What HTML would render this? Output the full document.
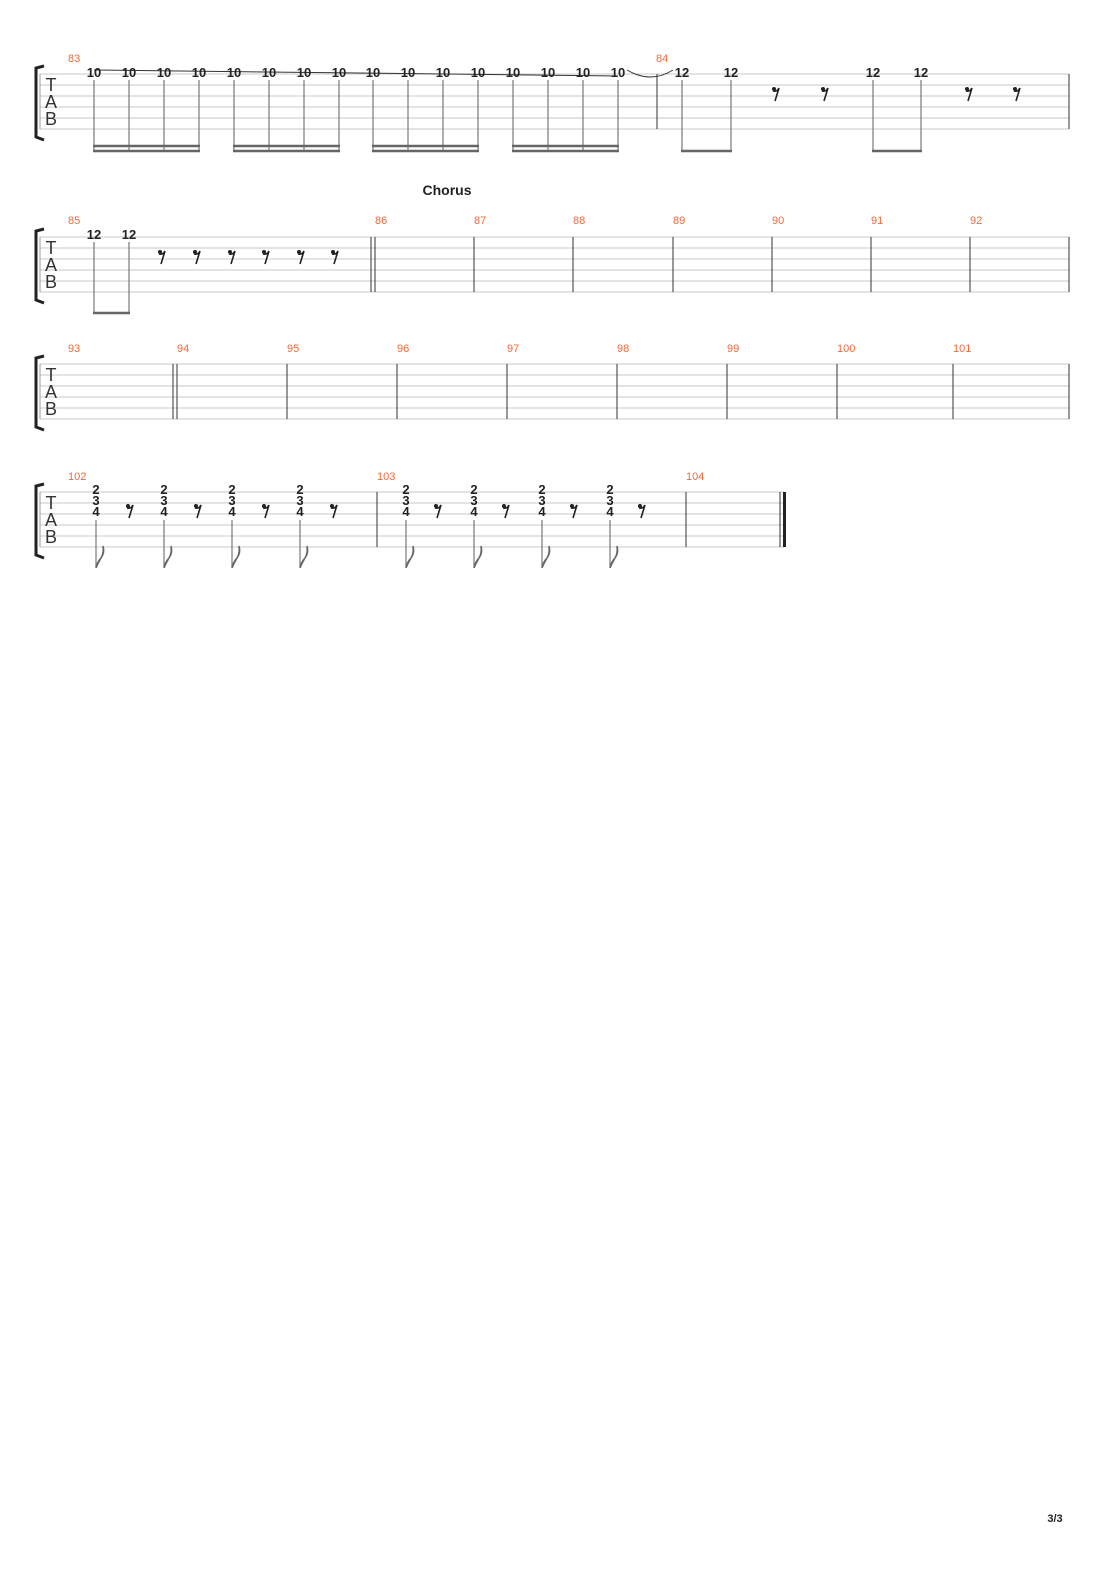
<!DOCTYPE html>
<html><head><meta charset="utf-8"><style>
body{margin:0;background:#fff}
svg{display:block}
.b{stroke:#333;stroke-width:1}
.st{stroke:#777;stroke-width:1.2}
.bm{stroke:#666;stroke-width:2.5}
.n{font:bold 13px "Liberation Sans",sans-serif;fill:#222;text-anchor:middle}
.m{font:11px "Liberation Sans",sans-serif;fill:#f2683a}
.tab{font:18px "Liberation Sans",sans-serif;fill:#333;text-anchor:middle}
</style></head><body>
<svg width="1110" height="1570" xmlns="http://www.w3.org/2000/svg">
<defs>
<g id="staff" stroke="#c8c8c8" stroke-width="1"><line x1="40" y1="0" x2="1069" y2="0"/><line x1="40" y1="11" x2="1069" y2="11"/><line x1="40" y1="22" x2="1069" y2="22"/><line x1="40" y1="33" x2="1069" y2="33"/><line x1="40" y1="44" x2="1069" y2="44"/><line x1="40" y1="55" x2="1069" y2="55"/></g>
<g id="staff4" stroke="#c8c8c8" stroke-width="1"><line x1="40" y1="0" x2="784" y2="0"/><line x1="40" y1="11" x2="784" y2="11"/><line x1="40" y1="22" x2="784" y2="22"/><line x1="40" y1="33" x2="784" y2="33"/><line x1="40" y1="44" x2="784" y2="44"/><line x1="40" y1="55" x2="784" y2="55"/></g>
<g id="clef"><path d="M44,-8 L36,-6 L36,63 L44,66" fill="none" stroke="#222" stroke-width="3"/><line x1="40" y1="0" x2="40" y2="55" stroke="#999"/><text class="tab" x="51" y="17">T</text><text class="tab" x="51" y="34">A</text><text class="tab" x="51" y="51">B</text></g>
<g id="rest"><circle cx="-2" cy="-4" r="2" fill="#222"/><path d="M-3,-2 Q1,-1 3,-5 L-1,8" stroke="#222" stroke-width="1.6" fill="none"/></g>
<g id="flag"><line x1="0" y1="0" x2="0" y2="48" stroke="#777" stroke-width="1.2"/><path d="M0,48 Q1,42 5,38 Q9,33 7,26 Q8,33 5,38 Q2,43 0,48" fill="none" stroke="#666" stroke-width="1.5"/></g>
</defs>

<!-- System 1 -->
<g transform="translate(0,74)"><use href="#staff"/><use href="#clef"/></g>
<text class="m" x="68" y="62">83</text><text class="m" x="656" y="62">84</text>
<line x1="94" y1="70" x2="618" y2="76" stroke="#333" stroke-width="1"/>
<g>
<text class="n" x="94" y="77">10</text><text class="n" x="129" y="77">10</text><text class="n" x="164" y="77">10</text><text class="n" x="199" y="77">10</text>
<text class="n" x="234" y="77">10</text><text class="n" x="269" y="77">10</text><text class="n" x="304" y="77">10</text><text class="n" x="339" y="77">10</text>
<text class="n" x="373" y="77">10</text><text class="n" x="408" y="77">10</text><text class="n" x="443" y="77">10</text><text class="n" x="478" y="77">10</text>
<text class="n" x="513" y="77">10</text><text class="n" x="548" y="77">10</text><text class="n" x="583" y="77">10</text><text class="n" x="618" y="77">10</text>
<text class="n" x="682" y="77">12</text><text class="n" x="731" y="77">12</text><text class="n" x="873" y="77">12</text><text class="n" x="921" y="77">12</text>
</g>
<g class="st">
<line x1="94" y1="80" x2="94" y2="152"/><line x1="129" y1="80" x2="129" y2="152"/><line x1="164" y1="80" x2="164" y2="152"/><line x1="199" y1="80" x2="199" y2="152"/>
<line x1="234" y1="80" x2="234" y2="152"/><line x1="269" y1="80" x2="269" y2="152"/><line x1="304" y1="80" x2="304" y2="152"/><line x1="339" y1="80" x2="339" y2="152"/>
<line x1="373" y1="80" x2="373" y2="152"/><line x1="408" y1="80" x2="408" y2="152"/><line x1="443" y1="80" x2="443" y2="152"/><line x1="478" y1="80" x2="478" y2="152"/>
<line x1="513" y1="80" x2="513" y2="152"/><line x1="548" y1="80" x2="548" y2="152"/><line x1="583" y1="80" x2="583" y2="152"/><line x1="618" y1="80" x2="618" y2="152"/>
<line x1="682" y1="80" x2="682" y2="152"/><line x1="731" y1="80" x2="731" y2="152"/><line x1="873" y1="80" x2="873" y2="152"/><line x1="921" y1="80" x2="921" y2="152"/>
</g>
<g class="bm">
<line x1="93" y1="146" x2="200" y2="146"/><line x1="93" y1="151" x2="200" y2="151"/>
<line x1="233" y1="146" x2="340" y2="146"/><line x1="233" y1="151" x2="340" y2="151"/>
<line x1="372" y1="146" x2="479" y2="146"/><line x1="372" y1="151" x2="479" y2="151"/>
<line x1="512" y1="146" x2="619" y2="146"/><line x1="512" y1="151" x2="619" y2="151"/>
<line x1="681" y1="151" x2="732" y2="151"/><line x1="872" y1="151" x2="922" y2="151"/>
</g>
<path d="M627,70 Q651,84 673,70" fill="none" stroke="#333"/>
<line class="b" x1="657" y1="74" x2="657" y2="129"/><line class="b" x1="1069" y1="74" x2="1069" y2="129"/>
<use href="#rest" x="776" y="93"/><use href="#rest" x="825" y="93"/><use href="#rest" x="969" y="93"/><use href="#rest" x="1017" y="93"/>

<!-- System 2 -->
<text x="447" y="195" style="font:bold 14px 'Liberation Sans',sans-serif;fill:#222" text-anchor="middle">Chorus</text>
<g transform="translate(0,237)"><use href="#staff"/><use href="#clef"/></g>
<text class="m" x="68" y="224">85</text><text class="m" x="375" y="224">86</text><text class="m" x="474" y="224">87</text><text class="m" x="573" y="224">88</text><text class="m" x="673" y="224">89</text><text class="m" x="772" y="224">90</text><text class="m" x="871" y="224">91</text><text class="m" x="970" y="224">92</text>
<text class="n" x="94" y="239">12</text><text class="n" x="129" y="239">12</text>
<line class="st" x1="94" y1="242" x2="94" y2="314"/><line class="st" x1="129" y1="242" x2="129" y2="314"/>
<line class="bm" x1="93" y1="313" x2="130" y2="313"/>
<use href="#rest" x="162" y="256"/><use href="#rest" x="197" y="256"/><use href="#rest" x="232" y="256"/><use href="#rest" x="266" y="256"/><use href="#rest" x="301" y="256"/><use href="#rest" x="335" y="256"/>
<g class="b"><line x1="371" y1="237" x2="371" y2="292"/><line x1="375" y1="237" x2="375" y2="292"/><line x1="474" y1="237" x2="474" y2="292"/><line x1="573" y1="237" x2="573" y2="292"/><line x1="673" y1="237" x2="673" y2="292"/><line x1="772" y1="237" x2="772" y2="292"/><line x1="871" y1="237" x2="871" y2="292"/><line x1="970" y1="237" x2="970" y2="292"/><line x1="1069" y1="237" x2="1069" y2="292"/></g>

<!-- System 3 -->
<g transform="translate(0,364)"><use href="#staff"/><use href="#clef"/></g>
<text class="m" x="68" y="352">93</text><text class="m" x="177" y="352">94</text><text class="m" x="287" y="352">95</text><text class="m" x="397" y="352">96</text><text class="m" x="507" y="352">97</text><text class="m" x="617" y="352">98</text><text class="m" x="727" y="352">99</text><text class="m" x="837" y="352">100</text><text class="m" x="953" y="352">101</text>
<g class="b"><line x1="173" y1="364" x2="173" y2="419"/><line x1="177" y1="364" x2="177" y2="419"/><line x1="287" y1="364" x2="287" y2="419"/><line x1="397" y1="364" x2="397" y2="419"/><line x1="507" y1="364" x2="507" y2="419"/><line x1="617" y1="364" x2="617" y2="419"/><line x1="727" y1="364" x2="727" y2="419"/><line x1="837" y1="364" x2="837" y2="419"/><line x1="953" y1="364" x2="953" y2="419"/><line x1="1069" y1="364" x2="1069" y2="419"/></g>

<!-- System 4 -->
<g transform="translate(0,492)"><use href="#staff4"/><use href="#clef"/></g>
<text class="m" x="68" y="480">102</text><text class="m" x="377" y="480">103</text><text class="m" x="686" y="480">104</text>
<text class="n" x="96" y="494">2</text><text class="n" x="96" y="505">3</text><text class="n" x="96" y="516">4</text>
<text class="n" x="164" y="494">2</text><text class="n" x="164" y="505">3</text><text class="n" x="164" y="516">4</text>
<text class="n" x="232" y="494">2</text><text class="n" x="232" y="505">3</text><text class="n" x="232" y="516">4</text>
<text class="n" x="300" y="494">2</text><text class="n" x="300" y="505">3</text><text class="n" x="300" y="516">4</text>
<text class="n" x="406" y="494">2</text><text class="n" x="406" y="505">3</text><text class="n" x="406" y="516">4</text>
<text class="n" x="474" y="494">2</text><text class="n" x="474" y="505">3</text><text class="n" x="474" y="516">4</text>
<text class="n" x="542" y="494">2</text><text class="n" x="542" y="505">3</text><text class="n" x="542" y="516">4</text>
<text class="n" x="610" y="494">2</text><text class="n" x="610" y="505">3</text><text class="n" x="610" y="516">4</text>
<use href="#flag" x="96" y="520"/><use href="#flag" x="164" y="520"/><use href="#flag" x="232" y="520"/><use href="#flag" x="300" y="520"/>
<use href="#flag" x="406" y="520"/><use href="#flag" x="474" y="520"/><use href="#flag" x="542" y="520"/><use href="#flag" x="610" y="520"/>
<use href="#rest" x="130" y="510"/><use href="#rest" x="198" y="510"/><use href="#rest" x="266" y="510"/><use href="#rest" x="334" y="510"/>
<use href="#rest" x="438" y="510"/><use href="#rest" x="506" y="510"/><use href="#rest" x="574" y="510"/><use href="#rest" x="642" y="510"/>
<g class="b"><line x1="377" y1="492" x2="377" y2="547"/><line x1="686" y1="492" x2="686" y2="547"/><line x1="780" y1="492" x2="780" y2="547"/></g>
<rect x="783" y="492" width="3" height="55" fill="#222"/>

<text x="1055" y="1522" style="font:bold 11px 'Liberation Sans',sans-serif;fill:#222" text-anchor="middle">3/3</text>
</svg>
</body></html>
